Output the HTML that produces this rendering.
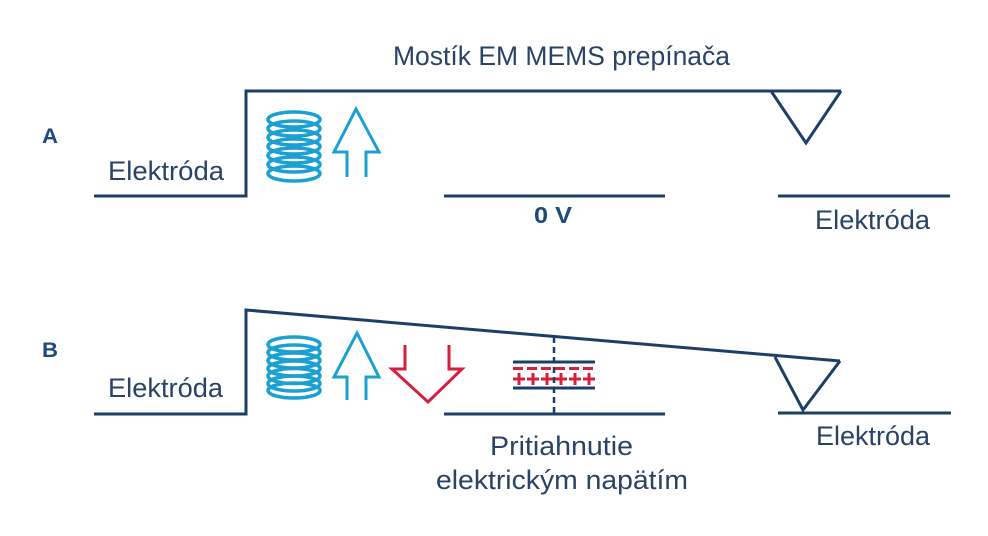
<!DOCTYPE html>
<html>
<head>
<meta charset="utf-8">
<style>
  html, body { margin:0; padding:0; background:#ffffff; }
  svg { display:block; }
  text { font-family: "Liberation Sans", "DejaVu Sans", sans-serif; }
</style>
</head>
<body>
<svg width="988" height="536" viewBox="0 0 988 536" xmlns="http://www.w3.org/2000/svg">
  <rect width="988" height="536" fill="#ffffff"/>

  <!-- Title -->
  <text x="393" y="65" font-size="27" fill="#2a4266" textLength="337" lengthAdjust="spacingAndGlyphs">Mostík EM MEMS prepínača</text>

  <!-- ===== A ===== -->
  <text x="42" y="143" font-size="21" font-weight="bold" fill="#1d4a7a" textLength="16" lengthAdjust="spacingAndGlyphs">A</text>
  <g fill="none" stroke="#1c3f68" stroke-width="3">
    <polyline points="94,196 246,196 246,91 841,91"/>
    <polyline points="771,91 806,143 841,91"/>
    <line x1="444" y1="196" x2="665" y2="196"/>
    <line x1="778" y1="196" x2="950" y2="196"/>
  </g>
  <text x="108" y="180" font-size="27" fill="#2a4266" textLength="116" lengthAdjust="spacingAndGlyphs">Elektróda</text>
  <text x="815" y="229" font-size="27" fill="#2a4266" textLength="115" lengthAdjust="spacingAndGlyphs">Elektróda</text>
  <text x="534" y="223" font-size="23" font-weight="bold" fill="#1d4a7a" textLength="38" lengthAdjust="spacingAndGlyphs">0 V</text>

  <!-- coil A -->
  <g fill="none" stroke="#1ba0d2" stroke-width="3.5">
    <ellipse cx="294" cy="119.5" rx="26" ry="7.5"/>
    <ellipse cx="294" cy="128.5" rx="26" ry="7.5"/>
    <ellipse cx="294" cy="137.5" rx="26" ry="7.5"/>
    <ellipse cx="294" cy="146.5" rx="26" ry="7.5"/>
    <ellipse cx="294" cy="155.5" rx="26" ry="7.5"/>
    <ellipse cx="294" cy="164.5" rx="26" ry="7.5"/>
    <ellipse cx="294" cy="173.5" rx="26" ry="7.5"/>
  </g>
  <!-- up arrow A -->
  <polyline points="347,177 347,152 334,152 356,109 379,152 366,152 366,177" fill="none" stroke="#1ba0d2" stroke-width="3" stroke-linejoin="miter"/>

  <!-- ===== B ===== -->
  <text x="42" y="357" font-size="21" font-weight="bold" fill="#1d4a7a" textLength="16" lengthAdjust="spacingAndGlyphs">B</text>
  <g fill="none" stroke="#1c3f68" stroke-width="3">
    <polyline points="94,414 246,414 246,310 840,361"/>
    <polyline points="775,357 803,410 840,361"/>
    <line x1="444" y1="414" x2="665" y2="414"/>
    <line x1="778" y1="413" x2="951" y2="413"/>
    <!-- capacitor plates -->
    <line x1="513" y1="362" x2="595" y2="362"/>
    <line x1="513" y1="388" x2="595" y2="388"/>
  </g>
  <!-- dashed vertical -->
  <line x1="554" y1="337" x2="554" y2="414" stroke="#1c3f68" stroke-width="2.5" stroke-dasharray="6 4"/>
  <!-- minus row -->
  <line x1="513" y1="368.5" x2="595" y2="368.5" stroke="#d3203f" stroke-width="3" stroke-dasharray="10 4"/>
  <!-- plus row -->
  <g stroke="#d3203f" stroke-width="3" fill="none">
    <path d="M513,379 h12 M519,373 v12"/>
    <path d="M527,379 h12 M533,373 v12"/>
    <path d="M541,379 h12 M547,373 v12"/>
    <path d="M555,379 h12 M561,373 v12"/>
    <path d="M569,379 h12 M575,373 v12"/>
    <path d="M583,379 h12 M589,373 v12"/>
  </g>

  <text x="108" y="397" font-size="27" fill="#2a4266" textLength="115" lengthAdjust="spacingAndGlyphs">Elektróda</text>
  <text x="816" y="445" font-size="27" fill="#2a4266" textLength="114" lengthAdjust="spacingAndGlyphs">Elektróda</text>
  <text x="490" y="455" font-size="27" fill="#2a4266" textLength="143" lengthAdjust="spacingAndGlyphs">Pritiahnutie</text>
  <text x="436" y="489" font-size="27" fill="#2a4266" textLength="252" lengthAdjust="spacingAndGlyphs">elektrickým napätím</text>

  <!-- coil B -->
  <g fill="none" stroke="#1ba0d2" stroke-width="3.5">
    <ellipse cx="294" cy="344.5" rx="26" ry="7.5"/>
    <ellipse cx="294" cy="352.5" rx="26" ry="7.5"/>
    <ellipse cx="294" cy="360.5" rx="26" ry="7.5"/>
    <ellipse cx="294" cy="368.5" rx="26" ry="7.5"/>
    <ellipse cx="294" cy="376" rx="26" ry="7.5"/>
    <ellipse cx="294" cy="383.5" rx="26" ry="7.5"/>
    <ellipse cx="294" cy="390.5" rx="26" ry="7.5"/>
  </g>
  <!-- up arrow B -->
  <polyline points="347,400 347,377 334,377 357,333 379,377 366,377 366,400" fill="none" stroke="#1ba0d2" stroke-width="3"/>
  <!-- down arrow B (red) -->
  <polyline points="405,345 405,369 392,369 428,402 462,369 449,369 449,345" fill="none" stroke="#d3203f" stroke-width="3"/>
</svg>
</body>
</html>
